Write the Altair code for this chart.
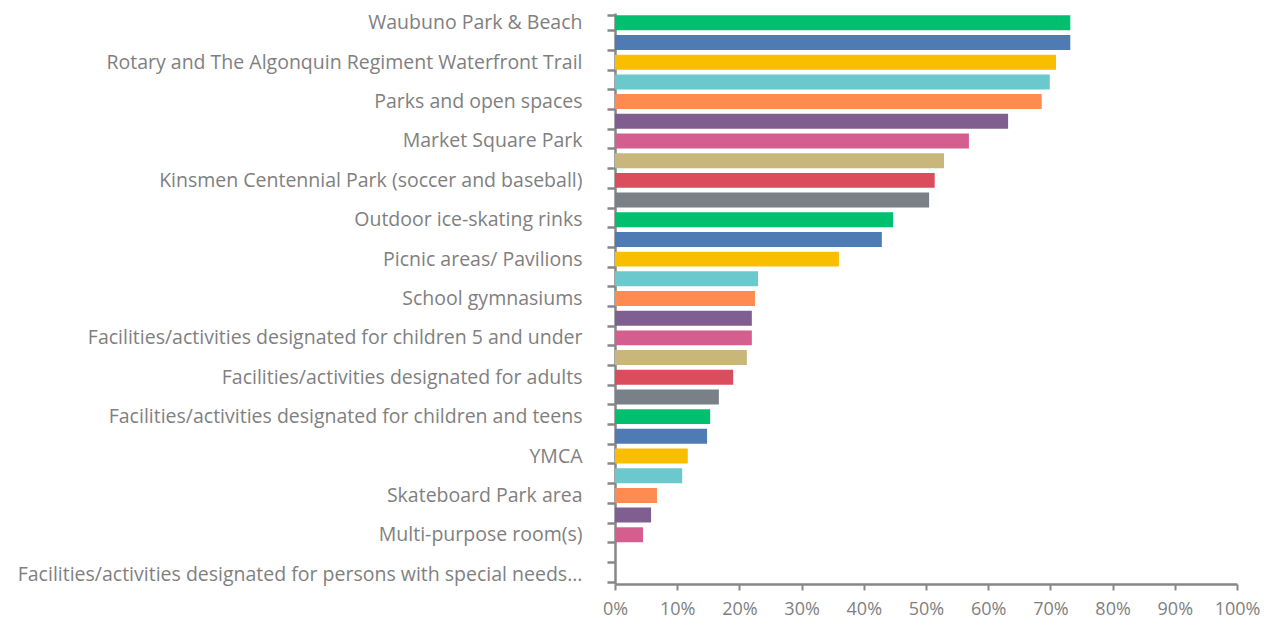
import altair as alt
import pandas as pd

labels = [
    "Waubuno Park & Beach", "",
    "Rotary and The Algonquin Regiment Waterfront Trail", "",
    "Parks and open spaces", "",
    "Market Square Park", "",
    "Kinsmen Centennial Park (soccer and baseball)", "",
    "Outdoor ice-skating rinks", "",
    "Picnic areas/ Pavilions", "",
    "School gymnasiums", "",
    "Facilities/activities designated for children 5 and under", "",
    "Facilities/activities designated for adults", "",
    "Facilities/activities designated for children and teens", "",
    "YMCA", "",
    "Skateboard Park area", "",
    "Multi-purpose room(s)", "",
    "Facilities/activities designated for persons with special needs...",
]
values = [73.2, 73.2, 70.9, 69.9, 68.6, 63.2, 56.9, 52.9, 51.4, 50.5,
          44.7, 42.9, 36.0, 23.0, 22.5, 22.0, 22.0, 21.2, 19.0, 16.7,
          15.3, 14.8, 11.7, 10.8, 6.75, 5.8, 4.5, 0.0, 0.0]
palette = ["#00BF6F", "#4E7BB4", "#F9BE00", "#6BC8CC", "#FF8B50",
           "#7F5F8F", "#D45F8F", "#C8B67A", "#DB4C5C", "#798087"]

df = pd.DataFrame({
    "idx": list(range(len(values))),
    "value": [v / 100 for v in values],
})

label_arr = "[" + ",".join("'" + s.replace("'", "\\'") + "'" for s in labels) + "]"

chart = alt.Chart(df).mark_bar().encode(
    y=alt.Y("idx:O", sort=None,
            scale=alt.Scale(paddingInner=0.24, paddingOuter=0.12),
            axis=alt.Axis(title=None, labelExpr=label_arr + "[datum.value]",
                          tickBand="extent", tickSize=8, tickWidth=2.5,
                          labelPadding=25, labelFontSize=19.5, labelLimit=700,
                          grid=False)),
    x=alt.X("value:Q", scale=alt.Scale(domain=[0, 1], nice=False),
            axis=alt.Axis(title=None, format="%", values=[i / 10 for i in range(11)],
                          tickSize=6, tickWidth=2, labelPadding=10, labelFontSize=18,
                          grid=False, labelFlush=False)),
    color=alt.Color("idx:O", scale=alt.Scale(range=palette), legend=None),
).properties(
    width=622, height=571,
    autosize=alt.AutoSizeParams(type="none"),
    padding={"left": 607, "top": 5, "right": 23, "bottom": 37},
).configure_view(stroke=None).configure_axis(
    labelFont="Open Sans", labelColor="#7f7f7f",
    domainColor="#878787", tickColor="#878787", domainWidth=2.5,
)

chart.save("out.html", embed_options={"renderer": "svg", "actions": False})
